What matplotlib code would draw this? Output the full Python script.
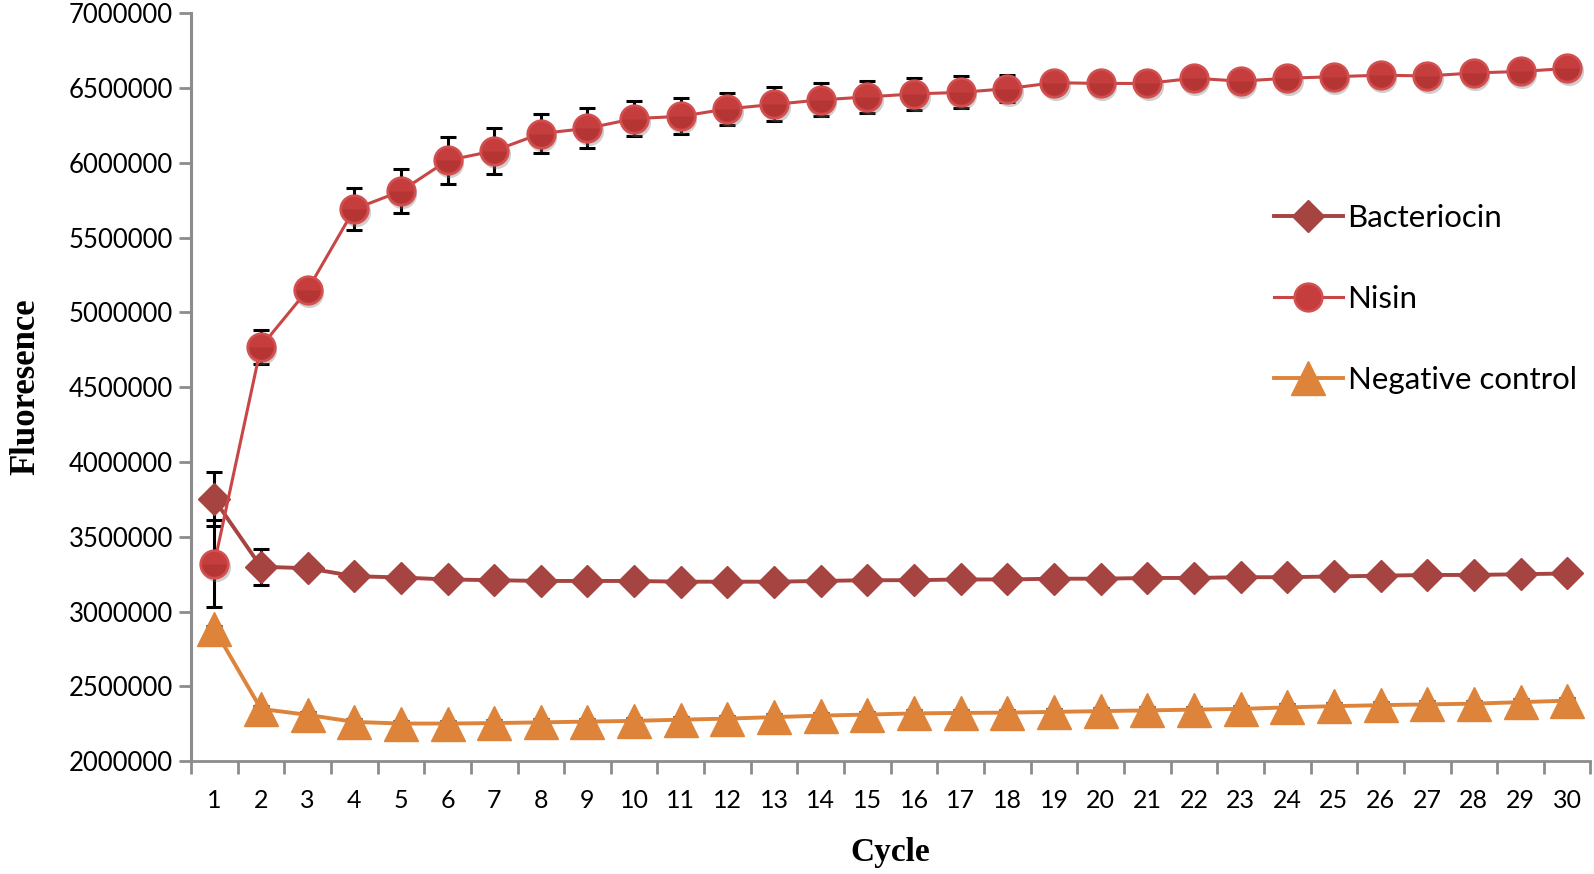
import matplotlib
matplotlib.use("Agg")
import matplotlib.pyplot as plt
import matplotlib.transforms as mtransforms
from matplotlib.ticker import FixedLocator, NullFormatter

cycles = list(range(1, 31))

bacteriocin = [3750000, 3300000, 3290000, 3237000, 3228000, 3215000, 3210000, 3205000, 3205000, 3205000,
               3200000, 3200000, 3200000, 3205000, 3210000, 3210000, 3215000, 3215000, 3220000, 3220000,
               3225000, 3225000, 3230000, 3230000, 3235000, 3240000, 3245000, 3245000, 3250000, 3255000]
bacteriocin_err = [180000, 120000, 30000, 20000, 20000, 20000, 20000, 20000, 20000, 20000,
                   20000, 20000, 20000, 20000, 20000, 20000, 20000, 20000, 20000, 20000,
                   20000, 20000, 20000, 20000, 20000, 20000, 20000, 20000, 20000, 20000]

nisin = [3320000, 4770000, 5150000, 5690000, 5810000, 6015000, 6080000, 6195000, 6230000, 6295000,
         6310000, 6360000, 6390000, 6420000, 6440000, 6460000, 6470000, 6495000, 6535000, 6530000,
         6530000, 6565000, 6545000, 6565000, 6575000, 6585000, 6580000, 6600000, 6610000, 6630000]
nisin_err = [290000, 115000, 50000, 140000, 147000, 158000, 153000, 133000, 133000, 118000,
             120000, 107000, 113000, 110000, 109000, 107000, 107000, 90000, 30000, 30000,
             30000, 30000, 30000, 30000, 30000, 30000, 30000, 30000, 30000, 30000]

negative = [2885000, 2350000, 2310000, 2263000, 2252000, 2252000, 2255000, 2260000, 2265000, 2270000,
            2278000, 2285000, 2295000, 2305000, 2312000, 2320000, 2323000, 2325000, 2330000, 2335000,
            2340000, 2345000, 2350000, 2360000, 2368000, 2375000, 2380000, 2385000, 2395000, 2405000]
negative_err = [20000] * 30

c_bact = "#A64442"
c_nisin = "#C63D3D"
c_neg = "#DD843A"
grey = "#8C8C8C"

fig = plt.figure(figsize=(15.94, 8.74), dpi=100)
ax = fig.add_axes([0.1198, 0.129, 0.878, 0.856])

# error bars sit under the markers
ax.errorbar(cycles, bacteriocin, yerr=bacteriocin_err, fmt="none", ecolor="black",
            elinewidth=2.2, capsize=6, capthick=2.2, zorder=2)
ax.errorbar(cycles, nisin, yerr=nisin_err, fmt="none", ecolor="black",
            elinewidth=2.2, capsize=6, capthick=2.2, zorder=2)
ax.errorbar(cycles, negative, yerr=negative_err, fmt="none", ecolor="black",
            elinewidth=2.2, capsize=6, capthick=2.2, zorder=2)

ax.plot(cycles, bacteriocin, color=c_bact, lw=2.8, marker="D", ms=16,
        mfc=c_bact, mec=c_bact, label="Bacteriocin", zorder=3)

# soft shadow under nisin circles
shadow = mtransforms.offset_copy(ax.transData, fig=fig, x=1.5, y=-3, units="dots")
ax.plot(cycles, nisin, ls="none", marker="o", ms=21, mfc="#777777", mec="none",
        alpha=0.35, transform=shadow, zorder=3)
ax.plot(cycles, nisin, color="#C84646", lw=2.2, marker="o", ms=20,
        mfc=c_nisin, mec="#D35050", mew=1.8, label="Nisin", zorder=4)
# darker lower half to hint at the shading of the circles
ax.plot(cycles, nisin, ls="none", marker="o", ms=17, fillstyle="bottom",
        mfc="#8E2222", mec="none", alpha=0.3, zorder=4)

ax.plot(cycles, negative, color=c_neg, lw=2.8, marker="^", ms=24,
        mfc=c_neg, mec=c_neg, label="Negative control", zorder=3)

ax.set_xlim(0.5, 30.5)
ax.set_ylim(2000000, 7000000)
ax.set_yticks(range(2000000, 7000001, 500000))
ax.set_yticklabels([str(v) for v in range(2000000, 7000001, 500000)])

ax.set_xticks(cycles)
ax.set_xticklabels([str(c) for c in cycles])
ax.xaxis.set_minor_locator(FixedLocator([c - 0.5 for c in cycles] + [30.5]))
ax.xaxis.set_minor_formatter(NullFormatter())
ax.tick_params(axis="x", which="major", length=0, pad=20, labelsize=18)
ax.tick_params(axis="x", which="minor", length=9, width=2, color=grey)
ax.tick_params(axis="y", length=9, width=2, color=grey, labelsize=18.5, pad=4)
for lab in ax.get_xticklabels() + ax.get_yticklabels():
    lab.set_family("Lato")

ax.spines["top"].set_visible(False)
ax.spines["right"].set_visible(False)
ax.spines["left"].set_color(grey)
ax.spines["left"].set_linewidth(2.2)
ax.spines["bottom"].set_color(grey)
ax.spines["bottom"].set_linewidth(2)

ax.set_xlabel("Cycle", family="Liberation Serif", fontweight="bold", fontsize=24, labelpad=18)
ax.set_ylabel("Fluoresence", family="Liberation Serif", fontweight="bold", fontsize=25, labelpad=19)

leg = ax.legend(loc="upper left", bbox_to_anchor=(0.765, 0.762), frameon=False,
                prop={"family": "Lato", "size": 22.5}, handlelength=2.2, handletextpad=0.15,
                labelspacing=1.7, borderaxespad=0)

fig.savefig("out.png", dpi=100)
